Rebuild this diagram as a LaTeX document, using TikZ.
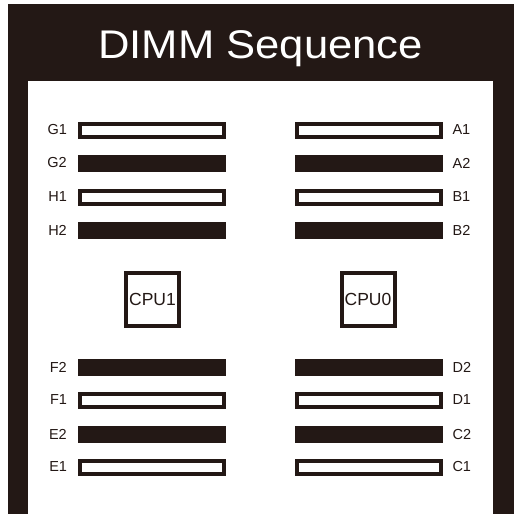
\documentclass[tikz,border=0pt]{standalone}
\usepackage{fontspec}
\setmainfont{Liberation Sans}
\usetikzlibrary{positioning}
\definecolor{ink}{HTML}{231815}

\begin{document}
\begin{tikzpicture}[x=1pt,y=-1pt,
   slot/.style={draw=ink,line width=4pt,fill=white,minimum width=144pt,minimum height=13pt,inner sep=0pt},
   fullslot/.style={fill=ink,minimum width=148pt,minimum height=17pt,inner sep=0pt},
   cpu/.style={draw=ink,line width=4pt,minimum size=53pt,inner sep=0pt,text=ink,font=\fontsize{17.5}{17.5}\selectfont},
   lbl/.style={font=\fontsize{14.5}{14.5}\selectfont,text=ink,inner sep=0pt,outer sep=0pt}]
\useasboundingbox (0,0) rectangle (514,514);
\fill[ink] (8,4) rectangle (514,514);
\fill[white] (28,81) rectangle (493,514);
\node[anchor=base,text=white,inner sep=0pt,font=\fontsize{40}{40}\selectfont,xscale=1.09] (title) at (260.5,58) {DIMM Sequence};
% CPU1 side
\node[slot]     (G1) at (152,130) {};
\node[fullslot] (G2) at (152,163) {};
\node[slot]     (H1) at (152,197) {};
\node[fullslot] (H2) at (152,230) {};
\node[cpu]      (cpu1) at (152.5,299) {CPU1};
\node[fullslot] (F2) at (152,367) {};
\node[slot]     (F1) at (152,400) {};
\node[fullslot] (E2) at (152,434.5) {};
\node[slot]     (E1) at (152,467) {};
% CPU0 side
\node[slot]     (A1) at (368.5,130) {};
\node[fullslot] (A2) at (368.5,163) {};
\node[slot]     (B1) at (368.5,197) {};
\node[fullslot] (B2) at (368.5,230) {};
\node[cpu]      (cpu0) at (368,299) {CPU0};
\node[fullslot] (D2) at (368.5,367) {};
\node[slot]     (D1) at (368.5,400) {};
\node[fullslot] (C2) at (368.5,434.5) {};
\node[slot]     (C1) at (368.5,467) {};
% slot names
\node[lbl,left=11pt of G1] (tG1) {G1};
\node[lbl,left=11pt of G2] (tG2) {G2};
\node[lbl,left=11pt of H1] (tH1) {H1};
\node[lbl,left=11pt of H2] (tH2) {H2};
\node[lbl,left=11pt of F2] (tF2) {F2};
\node[lbl,left=11pt of F1] (tF1) {F1};
\node[lbl,left=11pt of E2] (tE2) {E2};
\node[lbl,left=11pt of E1] (tE1) {E1};
\node[lbl,right=10pt of A1] (tA1) {A1};
\node[lbl,right=10pt of A2] (tA2) {A2};
\node[lbl,right=10pt of B1] (tB1) {B1};
\node[lbl,right=10pt of B2] (tB2) {B2};
\node[lbl,right=10pt of D2] (tD2) {D2};
\node[lbl,right=10pt of D1] (tD1) {D1};
\node[lbl,right=10pt of C2] (tC2) {C2};
\node[lbl,right=10pt of C1] (tC1) {C1};
\end{tikzpicture}
\end{document}
